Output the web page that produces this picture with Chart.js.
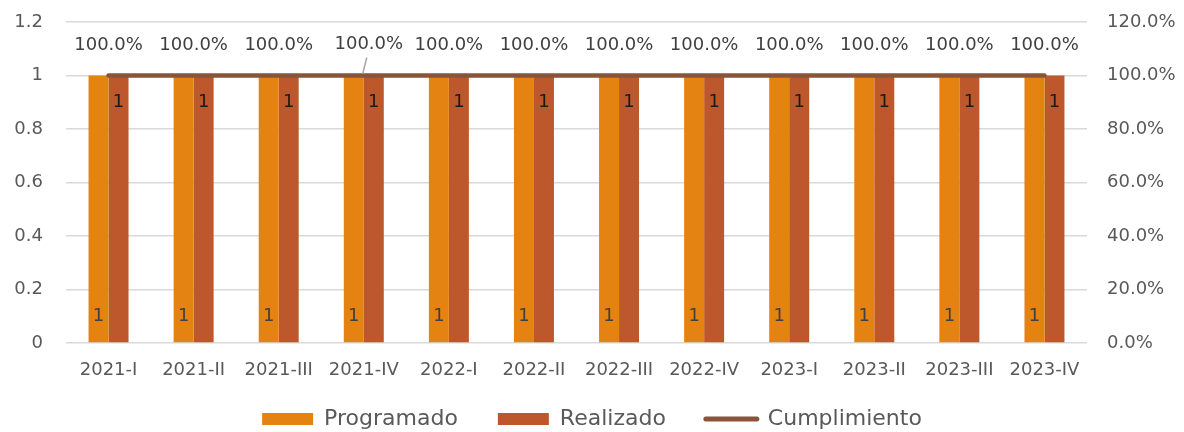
<!DOCTYPE html>
<html>
  <head>
    <title>Programado vs Realizado</title>
    <script src="https://cdn.jsdelivr.net/npm/chart.js@4.4.1/dist/chart.umd.min.js"></script>
    <style>
      body { margin: 0; background: #fff; }
      #wrap { width: 1184px; height: 432px; }
    </style>
  </head>
  <body>
    <div id="wrap"><canvas id="myChart" width="1184" height="432"></canvas></div>
    <script>
      // data
      var periods = ["2021-I", "2021-II", "2021-III", "2021-IV", "2022-I", "2022-II",
                     "2022-III", "2022-IV", "2023-I", "2023-II", "2023-III", "2023-IV"];
      var programado = [1, 1, 1, 1, 1, 1, 1, 1, 1, 1, 1, 1];
      var realizado = [1, 1, 1, 1, 1, 1, 1, 1, 1, 1, 1, 1];
      var cumplimiento = [1, 1, 1, 1, 1, 1, 1, 1, 1, 1, 1, 1];

      var FONT = "'DejaVu Sans', sans-serif";
      var GREY = "#595959";

      // draws the value labels (no datalabels plugin available offline)
      var valueLabels = {
        id: "valueLabels",
        afterDatasetsDraw: function (chart) {
          var ctx = chart.ctx;
          ctx.save();
          ctx.font = "18px " + FONT;
          ctx.textAlign = "center";
          ctx.textBaseline = "middle";

          chart.getDatasetMeta(0).data.forEach(function (el, i) {
            ctx.fillStyle = "#404040";
            ctx.fillText(String(programado[i]), el.x, el.base - 26);
          });
          chart.getDatasetMeta(1).data.forEach(function (el, i) {
            ctx.fillStyle = "#1a1a1a";
            ctx.fillText(String(realizado[i]), el.x, el.y + 27);
          });
          chart.getDatasetMeta(2).data.forEach(function (el, i) {
            var txt = (cumplimiento[i] * 100).toFixed(1) + "%";
            ctx.fillStyle = "#404040";
            if (i === 3) {
              // this one was nudged in the original, with a leader line
              ctx.fillText(txt, el.x + 5, el.y - 31);
              ctx.strokeStyle = "#a6a6a6";
              ctx.lineWidth = 1.5;
              ctx.beginPath();
              ctx.moveTo(el.x + 3, el.y - 18);
              ctx.lineTo(el.x - 1, el.y - 2);
              ctx.stroke();
            } else {
              ctx.fillText(txt, el.x, el.y - 30);
            }
          });
          ctx.restore();
        }
      };

      // keep the legend small in the layout, then let it reach up under the axis labels
      var legendPlace = {
        id: "legendPlace",
        beforeLayout: function (chart) {
          var lg = chart.legend;
          if (lg && !lg._patched) {
            var fit = lg.fit;
            lg.fit = function () {
              fit.call(this);
              this.height = 39;
            };
            lg._patched = true;
          }
        },
        afterLayout: function (chart) {
          var lg = chart.legend;
          lg.top = lg.bottom - 64;
        }
      };

      var ctx = document.getElementById("myChart").getContext("2d");
      var chart = new Chart(ctx, {
        type: "bar",
        data: {
          labels: periods,
          datasets: [
            {
              label: "Programado",
              data: programado,
              backgroundColor: "#E48312",
              yAxisID: "y",
              order: 1,
              categoryPercentage: 0.47,
              barPercentage: 1.0,
            },
            {
              label: "Realizado",
              data: realizado,
              backgroundColor: "#BD582C",
              yAxisID: "y",
              order: 1,
              categoryPercentage: 0.47,
              barPercentage: 1.0,
            },
            {
              type: "line",
              label: "Cumplimiento",
              data: cumplimiento,
              borderColor: "#89553A",
              backgroundColor: "#89553A",
              borderWidth: 4.5,
              borderCapStyle: "round",
              pointRadius: 0,
              yAxisID: "y1",
              order: 0,
            },
          ],
        },
        options: {
          responsive: false,
          animation: false,
          layout: { padding: { top: 22, bottom: 0 } },
          plugins: {
            tooltip: { enabled: false },
            legend: {
              position: "bottom",
              labels: {
                font: { family: FONT, size: 22 },
                color: GREY,
                usePointStyle: true,
                pointStyleWidth: 51,
                boxHeight: 12,
                padding: 40,
                generateLabels: function (chart) {
                  var ds = chart.data.datasets;
                  return [
                    { text: ds[0].label, fillStyle: ds[0].backgroundColor, strokeStyle: ds[0].backgroundColor,
                      lineWidth: 0, pointStyle: "rect", datasetIndex: 0, fontColor: GREY },
                    { text: ds[1].label, fillStyle: ds[1].backgroundColor, strokeStyle: ds[1].backgroundColor,
                      lineWidth: 0, pointStyle: "rect", datasetIndex: 1, fontColor: GREY },
                    { text: ds[2].label, fillStyle: ds[2].borderColor, strokeStyle: ds[2].borderColor,
                      lineWidth: 5, lineCap: "round", pointStyle: "line", datasetIndex: 2, fontColor: GREY },
                  ];
                },
              },
            },
          },
          scales: {
            x: {
              grid: { display: false },
              border: { display: false },
              afterFit: function (s) { s.height = 50; },
              ticks: { font: { family: FONT, size: 18 }, color: GREY, padding: 9, maxRotation: 0 },
            },
            y: {
              position: "left",
              min: 0,
              max: 1.2,
              afterFit: function (s) { s.width = 66; },
              grid: { color: "#d9d9d9", lineWidth: 1.5, drawTicks: true, tickLength: 23, tickColor: "rgba(0,0,0,0)" },
              border: { display: false },
              ticks: {
                stepSize: 0.2,
                font: { family: FONT, size: 18 },
                color: GREY,
                padding: 0,
                callback: function (v) { return String(Math.round(v * 10) / 10); },
              },
            },
            y1: {
              position: "right",
              min: 0,
              max: 1.2,
              afterFit: function (s) { s.width = 97; },
              grid: { drawOnChartArea: false, drawTicks: true, tickLength: 20, tickColor: "rgba(0,0,0,0)" },
              border: { display: false },
              ticks: {
                stepSize: 0.2,
                font: { family: FONT, size: 18 },
                color: GREY,
                padding: 0,
                callback: function (v) { return (v * 100).toFixed(1) + "%"; },
              },
            },
          },
        },
        plugins: [valueLabels, legendPlace],
      });
    </script>
  </body>
</html>
